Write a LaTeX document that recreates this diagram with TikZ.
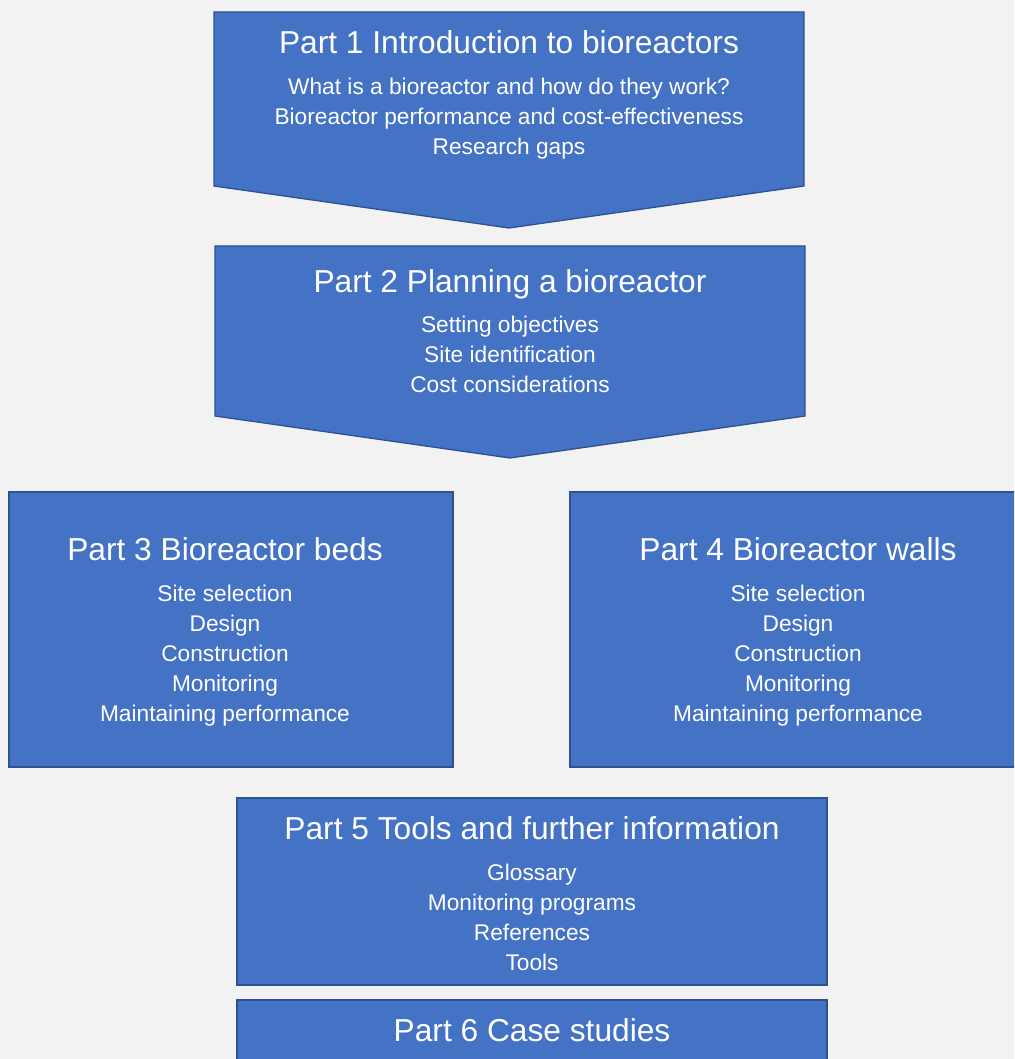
\documentclass[tikz,border=0pt]{standalone}
\usepackage{fontspec}
\setmainfont{Liberation Sans}
\usepackage{tikz}
\definecolor{PartFill}{HTML}{4472C4}
\definecolor{PartLine}{HTML}{2F528F}
\definecolor{Paper}{HTML}{F2F2F2}

\begin{document}
\begin{tikzpicture}[x=1pt,y=-1pt,
  part/.style={fill=PartFill,draw=PartLine,line width=1.3pt},
  head/.style={text=white,anchor=base,inner sep=0pt,font=\fontsize{31.7}{38}\selectfont},
  item/.style={text=white,anchor=base,inner sep=0pt,font=\fontsize{22.7}{27}\selectfont}]
  \fill[Paper] (0,0) rectangle (1014,1059);
  \clip (0,0) rectangle (1014,1059);

  % arrow shaped parts
  \draw[part] (214,12) -- (804,12) -- (804,186) -- (509,228) -- (214,186) -- cycle;
  \draw[part] (215,246) -- (805,246) -- (805,416) -- (510,458) -- (215,416) -- cycle;
  % plain boxes
  \draw[part] (9,492) rectangle (453,767);
  \draw[part] (570,492) rectangle (1030,767);
  \draw[part] (237,798) rectangle (827,985);
  \draw[part] (237,1000) rectangle (827,1080);

  \node[head] (IntroP) at (509,54)  {Part 1 Introduction to bioreactors};
  \node[head] (PlanP)  at (510,292) {Part 2 Planning a bioreactor};
  \node[head] (BedsP)  at (225,560) {Part 3 Bioreactor beds};
  \node[head] (WallsP) at (798,560) {Part 4 Bioreactor walls};
  \node[head] (ToolsP) at (532,839) {Part 5 Tools and further information};
  \node[head] (CasesP) at (532,1041) {Part 6 Case studies};

  \foreach \t [count=\i] in {What is a bioreactor and how do they work?,
      Bioreactor performance and cost-effectiveness, Research gaps}
    \node[item] (IntroI\i) at (509,{65+30*\i}) {\t};
  \foreach \t [count=\i] in {Setting objectives, Site identification, Cost considerations}
    \node[item] (PlanI\i) at (510,{302+30*\i}) {\t};
  \foreach \t [count=\i] in {Site selection, Design, Construction, Monitoring,
      Maintaining performance} {
    \node[item] (BedsI\i)  at (225,{571+30*\i}) {\t};
    \node[item] (WallsI\i) at (798,{571+30*\i}) {\t};
  }
  \foreach \t [count=\i] in {Glossary, Monitoring programs, References, Tools}
    \node[item] (ToolsI\i) at (532,{850+30*\i}) {\t};
\end{tikzpicture}
\end{document}
